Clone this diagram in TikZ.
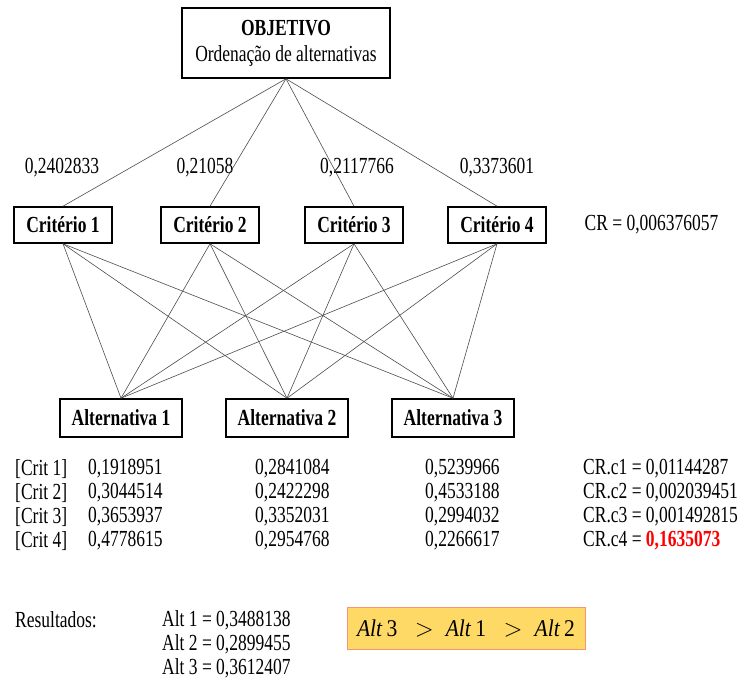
\documentclass[tikz,border=0pt]{standalone}
\usepackage{fontspec}
\setmainfont{Liberation Serif}[FakeStretch=0.76]
\newfontfamily\rankfont{Liberation Serif}[FakeStretch=0.9]
\usetikzlibrary{positioning}

\definecolor{boxgold}{RGB}{255,217,102}
\definecolor{boxedge}{RGB}{244,150,110}
\definecolor{crred}{RGB}{255,0,0}
\newcommand{\dfont}{\fontsize{23}{26}\selectfont}

\tikzset{
  goal/.style={draw, line width=1.6pt, minimum width=208pt, minimum height=70pt, align=center, inner sep=2pt},
  crit/.style={draw, line width=1.6pt, minimum width=98pt, minimum height=36pt, font=\bfseries, inner sep=1pt},
  alt/.style={draw, line width=1.6pt, minimum width=122pt, minimum height=38pt, font=\bfseries, inner sep=1pt},
  link/.style={draw=black!70, line width=0.6pt},
  val/.style={anchor=west, inner sep=0pt},
  res/.style={fill=boxgold, draw=boxedge, line width=1pt, minimum width=238pt, minimum height=42pt,
              font=\rankfont\fontsize{24}{28}\selectfont},
}

\begin{document}
\dfont
\begin{tikzpicture}[x=1pt, y=-1pt]
\useasboundingbox (0,0) rectangle (750,689);
% nodes
 \node[goal] (obj) at (286,43) {\textbf{OBJETIVO}\\Ordenação de alternativas};

 \node[crit] (c1) at (63,225) {Critério 1};
 \node[crit] (c2) at (210,225) {Critério 2};
 \node[crit] (c3) at (354,225) {Critério 3};
 \node[crit] (c4) at (497,225) {Critério 4};
 \node[right=30pt of c4] (cr) {CR = 0,006376057};

 \node (w1) at (62,168) {0,2402833};
 \node (w2) at (205,168) {0,21058};
 \node (w3) at (357,168) {0,2117766};
 \node (w4) at (497,168) {0,3373601};

 \node[alt] (a1) at (121,418) {Alternativa 1};
 \node[alt] (a2) at (287,418) {Alternativa 2};
 \node[alt] (a3) at (453,418) {Alternativa 3};

% edges
 \foreach \c in {c1,c2,c3,c4}
   \draw[link] (obj.south) -- (\c.north);
 \foreach \c in {c1,c2,c3,c4}
   \foreach \a in {a1,a2,a3}
     \draw[link] (\c.south) -- (\a.north);

% local priorities
 \foreach \y/\i/\p/\q/\r/\cr in {469/1/{0,1918951}/{0,2841084}/{0,5239966}/{0,01144287},
                                 493/2/{0,3044514}/{0,2422298}/{0,4533188}/{0,002039451},
                                 517/3/{0,3653937}/{0,3352031}/{0,2994032}/{0,001492815}}{
   \node[val] (k\i) at (15,\y) {[Crit \i]};
   \node[val] (p\i) at (88,\y) {\p};
   \node[val] (q\i) at (255,\y) {\q};
   \node[val] (r\i) at (425,\y) {\r};
   \node[val] (s\i) at (583,\y) {CR.c\i\ = \cr};
 }
 \node[val] (k4) at (15,541) {[Crit 4]};
 \node[val] (p4) at (88,541) {0,4778615};
 \node[val] (q4) at (255,541) {0,2954768};
 \node[val] (r4) at (425,541) {0,2266617};
 \node[val] (s4) at (583,541) {CR.c4 = \textcolor{crred}{\textbf{0,1635073}}};

% results
 \node[val] (resl) at (15,620) {Resultados:};
 \node[val] (g1) at (162,620) {Alt 1 = 0,3488138};
 \node[val] (g2) at (162,644) {Alt 2 = 0,2899455};
 \node[val] (g3) at (162,668) {Alt 3 = 0,3612407};
 \node[res] (rank) at (466,628) {\textit{Alt}\,3 \enspace$>$\enspace \textit{Alt}\,1 \enspace$>$\enspace \textit{Alt}\,2};
\end{tikzpicture}
\end{document}
